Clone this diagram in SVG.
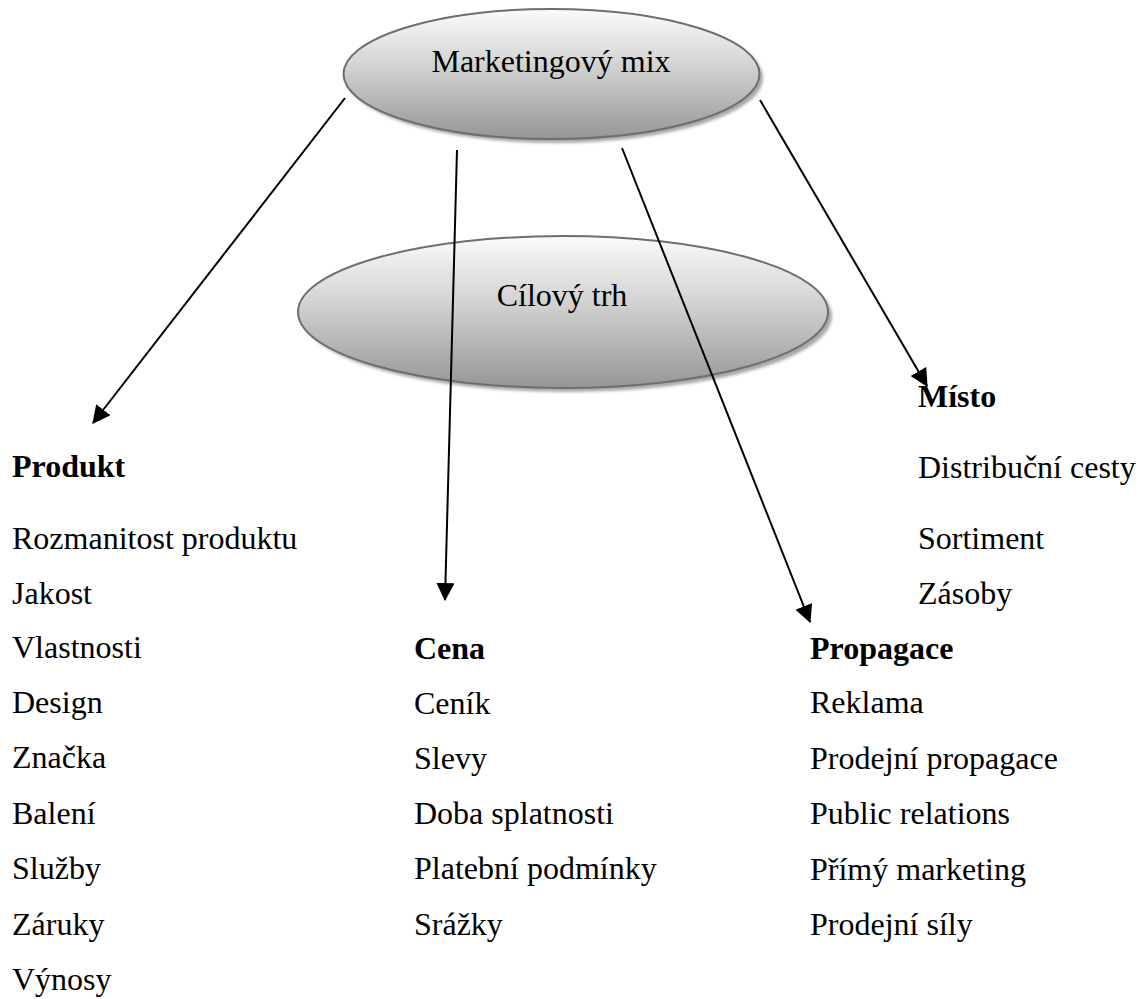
<svg xmlns="http://www.w3.org/2000/svg" width="1146" height="999" viewBox="0 0 1146 999">
<style>
  text { font-family: "Liberation Serif", "Times New Roman", serif; font-size: 32px; fill: #000; }
  .b { font-weight: bold; }
  .c { text-anchor: middle; }
  .ell { fill: url(#g); stroke: #6e6e6e; stroke-width: 2; }
  .sh { fill: #a8a8a8; filter: url(#blur); }
  .con { stroke: #000; stroke-width: 2; fill: none; marker-end: url(#ah); }
</style>
<defs>
  <linearGradient id="g" x1="0" y1="0" x2="0" y2="1">
    <stop offset="0" stop-color="#fbfbfb"/>
    <stop offset="0.4" stop-color="#d6d6d6"/>
    <stop offset="1" stop-color="#969696"/>
  </linearGradient>
  <filter id="blur" x="-10%" y="-10%" width="120%" height="120%">
    <feGaussianBlur stdDeviation="1.5"/>
  </filter>
  <marker id="ah" viewBox="0 0 16 16" refX="15" refY="8" markerWidth="9" markerHeight="9" orient="auto" markerUnits="strokeWidth">
    <path d="M0,0 L16,8 L0,16 z" fill="#000"/>
  </marker>
</defs>
<rect width="1146" height="999" fill="#fff"/>

<g id="node-marketingovy-mix">
  <ellipse class="sh" cx="555" cy="78" rx="208" ry="65"/>
  <ellipse class="ell" cx="551.5" cy="74" rx="208" ry="65"/>
  <text class="c" x="551" y="72">Marketingový mix</text>
</g>

<g id="node-cilovy-trh">
  <ellipse class="sh" cx="567" cy="316" rx="265" ry="76"/>
  <ellipse class="ell" cx="563" cy="312" rx="265" ry="76"/>
  <text class="c" x="562" y="306">Cílový trh</text>
</g>

<g id="connectors">
  <line class="con" x1="345" y1="98" x2="93" y2="423"/>
  <line class="con" x1="457" y1="150" x2="445" y2="600"/>
  <line class="con" x1="622" y1="148" x2="810" y2="622"/>
  <line class="con" x1="760" y1="100" x2="927" y2="386"/>
</g>

<g id="node-produkt">
  <text class="b" x="12" y="477">Produkt</text>
  <text x="12" y="549">Rozmanitost produktu</text>
  <text x="12" y="604">Jakost</text>
  <text x="12" y="658">Vlastnosti</text>
  <text x="12" y="713">Design</text>
  <text x="12" y="768">Značka</text>
  <text x="12" y="824">Balení</text>
  <text x="12" y="879">Služby</text>
  <text x="12" y="935">Záruky</text>
  <text x="12" y="990">Výnosy</text>
</g>

<g id="node-cena">
  <text class="b" x="414" y="659">Cena</text>
  <text x="414" y="714">Ceník</text>
  <text x="414" y="769">Slevy</text>
  <text x="414" y="824">Doba splatnosti</text>
  <text x="414" y="879">Platební podmínky</text>
  <text x="414" y="935">Srážky</text>
</g>

<g id="node-misto">
  <text class="b" x="918" y="407">Místo</text>
  <text x="918" y="478">Distribuční cesty</text>
  <text x="918" y="549">Sortiment</text>
  <text x="918" y="604">Zásoby</text>
</g>

<g id="node-propagace">
  <text class="b" x="810" y="659">Propagace</text>
  <text x="810" y="713">Reklama</text>
  <text x="810" y="769">Prodejní propagace</text>
  <text x="810" y="824">Public relations</text>
  <text x="810" y="880">Přímý marketing</text>
  <text x="810" y="935">Prodejní síly</text>
</g>
</svg>
